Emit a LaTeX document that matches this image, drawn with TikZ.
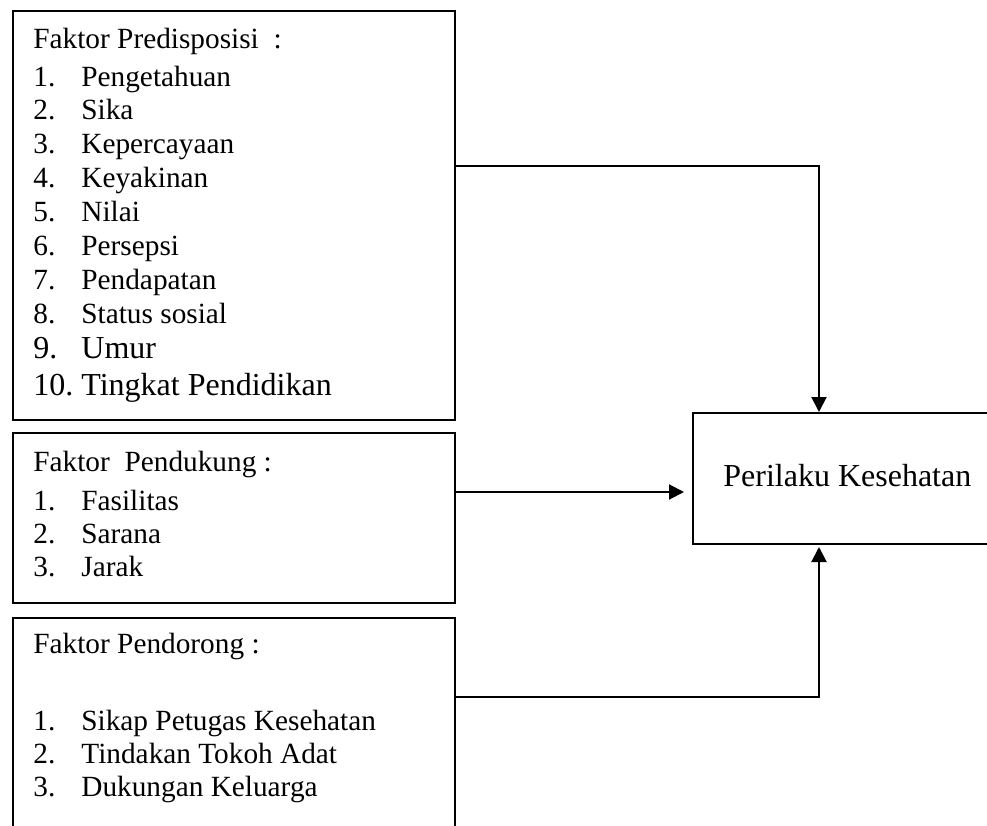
\documentclass[tikz,border=0pt]{standalone}
\usepackage{fontspec}
\setmainfont{Liberation Serif}
\usetikzlibrary{arrows.meta, positioning}
\newcommand{\nomor}[1]{\makebox[24pt][l]{#1}}

\begin{document}
\begin{tikzpicture}[x=0.5pt, y=-0.5pt,
    faktorbox/.style={rectangle, draw=black, line width=1pt, anchor=north west, inner sep=0pt},
    lbl/.style={anchor=base west, inner sep=0pt, font=\fontsize{14.65}{17}\selectfont},
    biglbl/.style={anchor=base west, inner sep=0pt, font=\fontsize{16}{19}\selectfont},
    conn/.style={line width=1pt, -{Triangle[length=7.5pt, width=7.5pt]}}]
    \clip (0,0) rectangle (987,826);

    % Boxes
    \node[faktorbox, minimum width=221pt, minimum height=204.5pt] (predis) at (12,10) {};
    \node[faktorbox, minimum width=221pt, minimum height=85pt] (pendukung) at (12,432) {};
    \node[faktorbox, minimum width=221pt, minimum height=141.5pt] (pendorong) at (12,617) {};
    \node[faktorbox, minimum width=154pt, minimum height=65.5pt] (perilaku) at (692,412) {};

    % Faktor Predisposisi
    \node[lbl] (predis0) at (33,48) {Faktor Predisposisi\ \ :};
    \node[lbl] (predis1) at (33,86) {\nomor{1.}Pengetahuan};
    \node[lbl] (predis2) at (33,119.5) {\nomor{2.}Sika};
    \node[lbl] (predis3) at (33,153) {\nomor{3.}Kepercayaan};
    \node[lbl] (predis4) at (33,187) {\nomor{4.}Keyakinan};
    \node[lbl] (predis5) at (33,221.5) {\nomor{5.}Nilai};
    \node[lbl] (predis6) at (33,255) {\nomor{6.}Persepsi};
    \node[lbl] (predis7) at (33,289) {\nomor{7.}Pendapatan};
    \node[lbl] (predis8) at (33,323) {\nomor{8.}Status sosial};
    \node[biglbl] (predis9) at (33,358) {\nomor{9.}Umur};
    \node[biglbl] (predis10) at (33,395) {\nomor{10.}Tingkat Pendidikan};

    % Faktor Pendukung
    \node[lbl] (dukung0) at (33,471) {Faktor\ \ Pendukung :};
    \node[lbl] (dukung1) at (33,510) {\nomor{1.}Fasilitas};
    \node[lbl] (dukung2) at (33,543) {\nomor{2.}Sarana};
    \node[lbl] (dukung3) at (33,576) {\nomor{3.}Jarak};

    % Faktor Pendorong
    \node[lbl] (dorong0) at (33,653) {Faktor Pendorong :};
    \node[lbl] (dorong1) at (33,730) {\nomor{1.}Sikap Petugas Kesehatan};
    \node[lbl] (dorong2) at (33,763) {\nomor{2.}Tindakan Tokoh Adat};
    \node[lbl] (dorong3) at (33,796) {\nomor{3.}Dukungan Keluarga};

    % Outcome
    \node[biglbl] (perilakutext) at (723,486) {Perilaku Kesehatan};

    % Connectors
    \draw[conn] (predis.east |- 0,166) -| ([xshift=-14pt]perilaku.north);
    \draw[conn] (pendukung.east |- 0,492) -- ++(228,0);
    \draw[conn] (pendorong.east |- 0,697) -| ([xshift=-14pt, yshift=-1pt]perilaku.south);
\end{tikzpicture}
\end{document}
